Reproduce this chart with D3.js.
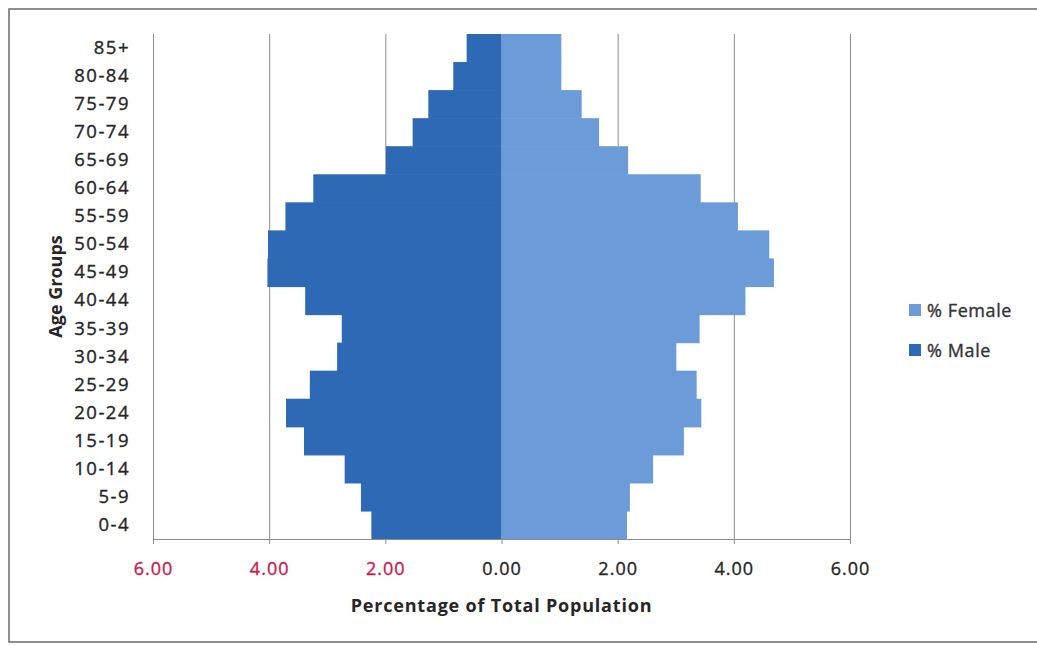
<!DOCTYPE html>
<html>
<head>
<meta charset="utf-8">
<script src="https://cdn.jsdelivr.net/npm/d3@7"></script>
<style>
  html, body { margin: 0; padding: 0; background: #fff; }
  svg { display: block; }
  text { font-family: "Open Sans", "Noto Sans", sans-serif; }
</style>
</head>
<body>
<svg id="chart" width="1037" height="645"></svg>
<script>
// ---- Data ----
const ageGroups = ["0-4","5-9","10-14","15-19","20-24","25-29","30-34","35-39","40-44","45-49","50-54","55-59","60-64","65-69","70-74","75-79","80-84","85+"];
const femalePct = [2.16, 2.21, 2.61, 3.14, 3.44, 3.36, 3.01, 3.41, 4.20, 4.69, 4.61, 4.07, 3.43, 2.18, 1.68, 1.38, 1.03, 1.03];
const malePct   = [2.24, 2.42, 2.70, 3.40, 3.71, 3.30, 2.83, 2.75, 3.38, 4.03, 4.02, 3.72, 3.24, 1.99, 1.53, 1.26, 0.83, 0.60];
const tickValues = [-6, -4, -2, 0, 2, 4, 6];
const seriesNames = ["% Female", "% Male"];
const seriesColors = ["#6b9bd9", "#2e69b6"];

// ---- Layout ----
const svg = d3.select("#chart");
const plot = { left: 153, right: 850, top: 34, bottom: 539 };

// frame
svg.append("rect").attr("x", 9).attr("y", 9).attr("width", 1040).attr("height", 633)
  .attr("fill", "#fff").attr("stroke", "#6a6a6a").attr("stroke-width", 1.5);

const x = d3.scaleLinear().domain([-6, 6]).range([plot.left, plot.right]);
const y = d3.scaleBand().domain(ageGroups.slice().reverse()).range([plot.top, plot.bottom]).padding(0);

// gridlines
svg.append("g").selectAll("line").data(tickValues).join("line")
  .attr("x1", d => x(d) + 0.5).attr("x2", d => x(d) + 0.5)
  .attr("y1", plot.top).attr("y2", plot.bottom)
  .attr("stroke", "#8c8c8c").attr("stroke-width", 1);

// bars
const rows = ageGroups.map((g, i) => ({ g, f: femalePct[i], m: malePct[i] }));
svg.append("g").selectAll("rect").data(rows).join("rect")
  .attr("x", d => x(-d.m)).attr("y", d => y(d.g))
  .attr("width", d => x(0) - x(-d.m)).attr("height", y.bandwidth() + 0.6)
  .attr("fill", seriesColors[1]);
svg.append("g").selectAll("rect").data(rows).join("rect")
  .attr("x", x(0)).attr("y", d => y(d.g))
  .attr("width", d => x(d.f) - x(0)).attr("height", y.bandwidth() + 0.6)
  .attr("fill", seriesColors[0]);

const textStyle = sel => sel.attr("fill", "#262626").attr("stroke", "#262626").attr("stroke-width", 0.35);

// x axis
const xAxis = d3.axisBottom(x).tickValues(tickValues).tickSize(5).tickPadding(18)
  .tickFormat(d => Math.abs(d).toFixed(2));
const gx = svg.append("g").attr("transform", `translate(0,${plot.bottom})`).call(xAxis);
gx.select(".domain").attr("stroke", "#8c8c8c");
gx.selectAll(".tick line").attr("stroke", "#8c8c8c");
gx.selectAll(".tick text")
  .attr("font-size", 18).attr("font-family", "'Open Sans', sans-serif")
  .attr("letter-spacing", 1)
  .call(textStyle)
  .attr("fill", d => d < 0 ? "#cc1a4d" : "#262626")
  .attr("stroke", d => d < 0 ? "#cc1a4d" : "#262626");

// y axis
const yAxis = d3.axisLeft(y).tickSize(0).tickPadding(23);
const gy = svg.append("g").attr("transform", `translate(${plot.left},0)`).call(yAxis);
gy.select(".domain").attr("stroke", "#8c8c8c");
gy.selectAll(".tick text")
  .attr("font-size", 18.5).attr("font-family", "'Open Sans', sans-serif")
  .attr("letter-spacing", 1.5)
  .call(textStyle);

// axis titles
svg.append("text").attr("x", x(0)).attr("y", 612).attr("text-anchor", "middle")
  .attr("font-size", 18).attr("font-weight", "bold").attr("letter-spacing", 0.8)
  .attr("fill", "#262626")
  .text("Percentage of Total Population");
svg.append("text").attr("transform", `translate(62,${(plot.top + plot.bottom) / 2}) rotate(-90)`)
  .attr("text-anchor", "middle")
  .attr("font-size", 18).attr("font-weight", "bold").attr("fill", "#262626")
  .text("Age Groups");

// legend
const legend = svg.append("g").attr("transform", "translate(909,299)");
seriesNames.forEach((name, i) => {
  const g = legend.append("g").attr("transform", `translate(0,${i * 40})`);
  g.append("rect").attr("x", 0).attr("y", 5).attr("width", 12).attr("height", 12).attr("fill", seriesColors[i]);
  g.append("text").attr("x", 18).attr("y", 11).attr("dominant-baseline", "central")
    .attr("font-size", 18).attr("letter-spacing", 0.6)
    .call(textStyle).attr("fill", "#333").attr("stroke", "#333")
    .text(name);
});
</script>
</body>
</html>
